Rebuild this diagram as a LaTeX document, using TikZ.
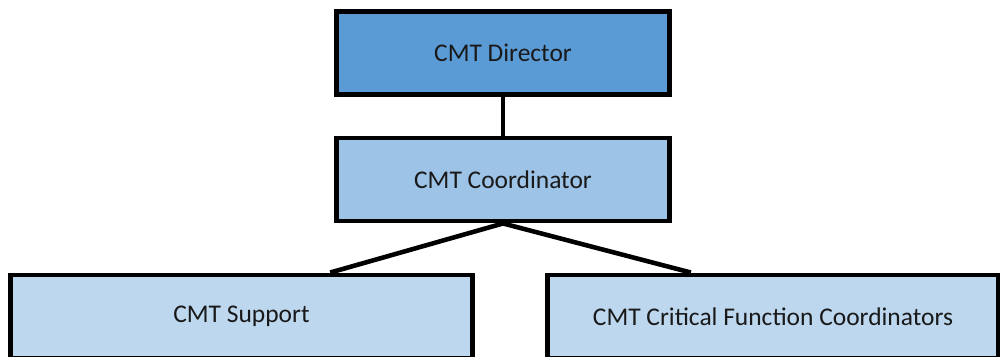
\documentclass[tikz,border=0pt]{standalone}
\usepackage{fontspec}
\setmainfont{Carlito}
\usetikzlibrary{calc}
\definecolor{dirblue}{HTML}{5B9BD5}
\definecolor{coordblue}{HTML}{9DC3E6}
\definecolor{teamblue}{HTML}{BDD7EE}
\begin{document}
\begin{tikzpicture}[x=0.02cm, y=-0.02cm,
  box/.style={draw=black, line width=2.8pt, minimum height=1.66cm,
    inner sep=0pt, text=black!90, font=\fontsize{14.5}{17}\selectfont},
  link/.style={line width=2.6pt}]
  \clip (0,0) rectangle (1000,356);
  % boxes
  \node[box, fill=dirblue, minimum width=6.66cm] (dir) at (503,53) {CMT Director};
  \node[box, fill=coordblue, minimum width=6.66cm] (coord) at (503,179.5) {CMT Coordinator};
  \node[box, fill=teamblue, minimum width=9.24cm] (sup) at (241.5,316.5) {CMT Support};
  \node[box, fill=teamblue, minimum width=9.03cm] (cfc) at (773,316.5) {CMT Critical Function Coordinators};
  % links
  \draw[link] (dir.south) -- (coord.north);
  \draw[link] (coord.south) -- ($(sup.north west)!0.69!(sup.north east)$);
  \draw[link] (coord.south) -- ($(cfc.north west)!0.32!(cfc.north east)$);
\end{tikzpicture}
\end{document}
